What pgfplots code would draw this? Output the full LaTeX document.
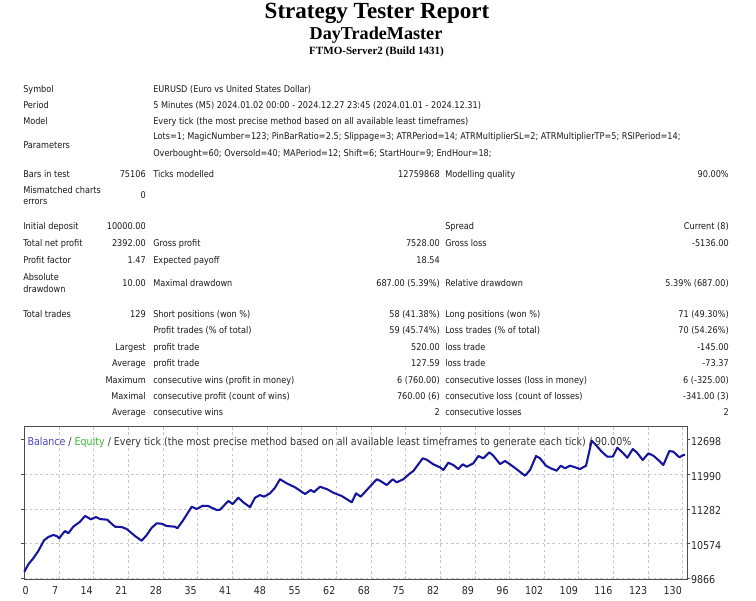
\documentclass[border=0pt]{standalone}
\usepackage{fontspec}
\setmainfont{DejaVu Sans}[FakeStretch=0.88]
\newfontfamily\titlefont{Liberation Serif}
\usepackage{pgfplots}
\pgfplotsset{compat=1.18}
\definecolor{linecol}{RGB}{20,20,160}
\definecolor{balcol}{RGB}{70,70,190}
\definecolor{eqcol}{RGB}{50,190,50}
\definecolor{txt}{RGB}{25,25,25}
\newcommand\tablefont{\fontsize{6.95}{8}\selectfont}
\newcommand\chartfont{\fontsize{8.1}{9}\selectfont}
\tikzset{lt/.style={anchor=west,inner sep=0pt,text height=0.73em,text depth=0pt,font=\tablefont,text=txt},
         rt/.style={lt,anchor=east}}
\begin{document}
\begin{tikzpicture}
\useasboundingbox (0,0) rectangle (567pt,-450pt);
\begin{scope}[x=0.75pt,y=-0.75pt]
\node[inner sep=0pt,font=\titlefont\bfseries\fontsize{17.3}{20}\selectfont] at (377,13) {Strategy Tester Report};
\node[inner sep=0pt,font=\titlefont\bfseries\fontsize{13.6}{16}\selectfont] at (376,35) {DayTradeMaster};
\node[inner sep=0pt,font=\titlefont\bfseries\fontsize{8.3}{10}\selectfont] at (376.5,52) {FTMO-Server2 (Build 1431)};
% table
\node[lt] at (23,87.3) {Symbol};
\node[lt] at (153,87.3) {EURUSD (Euro vs United States Dollar)};
\node[lt] at (23,104) {Period};
\node[lt] at (153,104) {5 Minutes (M5) 2024.01.02 00:00 - 2024.12.27 23:45 (2024.01.01 - 2024.12.31)};
\node[lt] at (23,120) {Model};
\node[lt] at (153,120) {Every tick (the most precise method based on all available least timeframes)};
\node[lt] at (23,143.5) {Parameters};
\node[lt] at (153,135) {Lots=1; MagicNumber=123; PinBarRatio=2.5; Slippage=3; ATRPeriod=14; ATRMultiplierSL=2; ATRMultiplierTP=5; RSIPeriod=14;};
\node[lt] at (153,151.7) {Overbought=60; Oversold=40; MAPeriod=12; Shift=6; StartHour=9; EndHour=18;};
\node[lt] at (23,172.3) {Bars in test};
\node[rt] at (146,172.3) {75106};
\node[lt] at (153,172.3) {Ticks modelled};
\node[rt] at (440,172.3) {12759868};
\node[lt] at (445,172.3) {Modelling quality};
\node[rt] at (729,172.3) {90.00\%};
\node[lt] at (23,188.3) {Mismatched charts};
\node[lt] at (23,200) {errors};
\node[rt] at (146,194) {0};
\node[lt] at (23,225) {Initial deposit};
\node[rt] at (146,225) {10000.00};
\node[lt] at (445,225) {Spread};
\node[rt] at (729,225) {Current (8)};
\node[lt] at (23,241.7) {Total net profit};
\node[rt] at (146,241.7) {2392.00};
\node[lt] at (153,241.7) {Gross profit};
\node[rt] at (440,241.7) {7528.00};
\node[lt] at (445,241.7) {Gross loss};
\node[rt] at (729,241.7) {-5136.00};
\node[lt] at (23,259) {Profit factor};
\node[rt] at (146,259) {1.47};
\node[lt] at (153,259) {Expected payoff};
\node[rt] at (440,259) {18.54};
\node[lt] at (23,276) {Absolute};
\node[lt] at (23,287.3) {drawdown};
\node[rt] at (146,281.5) {10.00};
\node[lt] at (153,281.5) {Maximal drawdown};
\node[rt] at (440,281.5) {687.00 (5.39\%)};
\node[lt] at (445,281.5) {Relative drawdown};
\node[rt] at (729,281.5) {5.39\% (687.00)};
\node[lt] at (23,312.3) {Total trades};
\node[rt] at (146,312.3) {129};
\node[lt] at (153,312.3) {Short positions (won \%)};
\node[rt] at (440,312.3) {58 (41.38\%)};
\node[lt] at (445,312.3) {Long positions (won \%)};
\node[rt] at (729,312.3) {71 (49.30\%)};
\node[lt] at (153,328.3) {Profit trades (\% of total)};
\node[rt] at (440,328.3) {59 (45.74\%)};
\node[lt] at (445,328.3) {Loss trades (\% of total)};
\node[rt] at (729,328.3) {70 (54.26\%)};
\node[rt] at (146,345.5) {Largest};
\node[lt] at (153,345.5) {profit trade};
\node[rt] at (440,345.5) {520.00};
\node[lt] at (445,345.5) {loss trade};
\node[rt] at (729,345.5) {-145.00};
\node[rt] at (146,362) {Average};
\node[lt] at (153,362) {profit trade};
\node[rt] at (440,362) {127.59};
\node[lt] at (445,362) {loss trade};
\node[rt] at (729,362) {-73.37};
\node[rt] at (146,378.3) {Maximum};
\node[lt] at (153,378.3) {consecutive wins (profit in money)};
\node[rt] at (440,378.3) {6 (760.00)};
\node[lt] at (445,378.3) {consecutive losses (loss in money)};
\node[rt] at (729,378.3) {6 (-325.00)};
\node[rt] at (146,394.5) {Maximal};
\node[lt] at (153,394.5) {consecutive profit (count of wins)};
\node[rt] at (440,394.5) {760.00 (6)};
\node[lt] at (445,394.5) {consecutive loss (count of losses)};
\node[rt] at (729,394.5) {-341.00 (3)};
\node[rt] at (146,411) {Average};
\node[lt] at (153,411) {consecutive wins};
\node[rt] at (440,411) {2};
\node[lt] at (445,411) {consecutive losses};
\node[rt] at (729,411) {2};
\end{scope}
\begin{axis}[
  at={(18.2625pt,-434.25pt)}, anchor=south west,
  scale only axis, width=497pt, height=114.75pt,
  xmin=0, xmax=130.8, ymin=9852, ymax=12982,
  xtick={0,6.84,13.68,20.52,27.36,34.20,41.04,47.88,54.72,61.56,68.40,75.24,82.08,88.92,95.76,102.60,109.44,116.28,123.12,129.96},
  xticklabels={\makebox[0pt][l]{0},7,14,21,28,35,41,48,55,62,68,75,82,89,96,102,109,116,123,130},
  ytick={9866,10574,11282,11990},
  yticklabels={9866,10574,11282,11990},
  extra y ticks={12698}, extra y tick labels={12698},
  extra y tick style={grid=none},
  scaled y ticks=false, scaled x ticks=false,
  yticklabel pos=right,
  grid=major,
  major grid style={gray!45, line width=0.5pt, dash pattern=on 2pt off 2pt},
  axis line style={black!70, line width=0.7pt},
  xtick style={draw=none},
  ytick style={black!70, line width=0.6pt},
  tick align=outside, major tick length=2.5pt,
  ticklabel style={font=\chartfont, text=black!85},
  xticklabel style={anchor=north east, inner sep=0pt, yshift=-3.2pt, xshift=-0.5pt},
  yticklabel style={anchor=west, inner sep=0pt, xshift=0.3pt, yshift=-1.2pt},
  /pgf/number format/assume math mode=true,
  clip=false
]
\addplot[linecol, line width=1.55pt, line join=round] coordinates {
(0,10000) (0.78,10152) (1.77,10275) (2.75,10425) (3.88,10643) (4.73,10711)
(5.71,10752) (6.39,10731) (6.90,10684) (7.37,10752) (8.02,10834) (8.68,10787)
(9.66,10922) (10.99,11024) (11.97,11141) (12.62,11106) (13.10,11073) (14.14,11120)
(14.93,11079) (16.37,11065) (16.91,11012) (17.89,10922) (19.22,10915) (20.20,10875)
(21.84,10731) (23.16,10635) (24.15,10752) (25.14,10901) (26.13,10991) (27.11,10983)
(28.10,10936) (29.74,10922) (30.19,10889) (31.38,11059) (33.03,11331) (34.02,11284)
(35.21,11351) (36.31,11345) (37.97,11263) (38.62,11270) (40.26,11448) (41.13,11386)
(42.23,11515) (43.22,11421) (44.54,11322) (45.53,11515) (46.52,11570) (47.31,11536)
(48.49,11605) (49.48,11720) (50.46,11892) (51.79,11810) (53.42,11728) (55.40,11591)
(56.52,11673) (57.18,11632) (58.36,11740) (59.80,11687) (60.99,11617) (62.64,11550)
(64.62,11421) (65.47,11605) (66.39,11536) (67.89,11707) (69.55,11892) (70.20,11863)
(71.53,11775) (72.71,11892) (73.50,11830) (74.80,11892) (76.13,12014) (76.78,12061)
(78.63,12321) (79.42,12293) (80.73,12198) (82.05,12137) (82.70,12082) (83.69,12231)
(84.67,12184) (85.66,12102) (86.53,12198) (87.32,12149) (88.62,12219) (89.61,12368)
(90.59,12321) (91.78,12444) (92.57,12374) (93.89,12204) (94.88,12266) (95.87,12198)
(97.19,12096) (98.83,11965) (99.82,12082) (101.00,12368) (101.79,12321) (102.97,12170)
(103.90,12117) (105.08,12068) (105.87,12170) (106.72,12117) (107.71,12170) (108.69,12137)
(109.68,12102) (110.87,12170) (111.99,12681) (112.64,12614) (113.97,12457) (115.07,12354)
(116.14,12354) (117.05,12538) (118.23,12423) (119.02,12333) (120.09,12511) (120.88,12444)
(122.06,12286) (123.17,12423) (124.16,12374) (125.14,12286) (126.13,12184) (127.31,12470)
(128.10,12457) (129.29,12341) (130.07,12388) (130.40,12392)
};
\node[anchor=west, inner sep=0pt, font=\chartfont, text=black!80] at (rel axis cs:0,0) [yshift=102.5pt, xshift=2.2pt]
  {{\color{balcol}Balance} / {\color{eqcol}Equity} / Every tick (the most precise method based on all available least timeframes to generate each tick) / 90.00\%};
\end{axis}
\end{tikzpicture}
\end{document}
